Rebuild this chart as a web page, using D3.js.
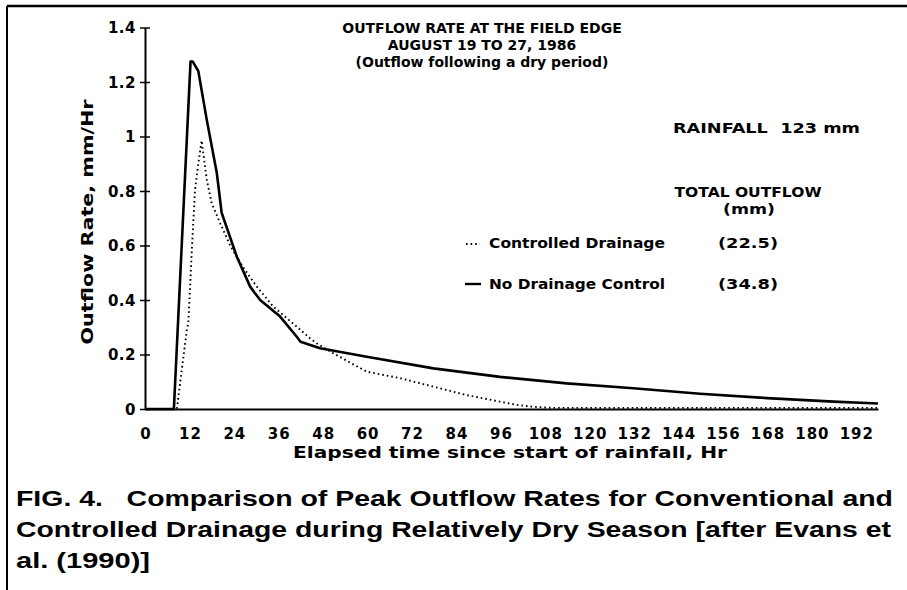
<!DOCTYPE html>
<html>
<head>
<meta charset="utf-8">
<script src="https://cdn.jsdelivr.net/npm/d3@7"></script>
<style>
  body { margin: 0; background: #fff; }
  .lbl { font-family: "DejaVu Sans", sans-serif; font-weight: bold; fill: #000; }
  .cap { font-family: "Liberation Sans", Arial, sans-serif; font-weight: bold; fill: #000; }
</style>
</head>
<body>
<div id="chart"></div>
<script>
// hours since start of rainfall
const noControlHr  = [0, 7.8, 12.3, 12.9, 14.4, 16.7, 19.4, 20.7, 24.8, 28.4, 31.1, 36.5, 41, 42, 47.3, 59.9, 77.9, 95.9, 113.9, 131.9, 149.9, 168, 186, 198];
const noControlVal = [0, 0, 1.275, 1.275, 1.24, 1.06, 0.866, 0.72, 0.559, 0.449, 0.40, 0.339, 0.265, 0.247, 0.223, 0.192, 0.149, 0.118, 0.094, 0.076, 0.056, 0.040, 0.027, 0.020];

const controlledHr  = [0, 8.6, 11.3, 11.7, 12.6, 13.5, 14.4, 15.3, 16.7, 18, 20.3, 23, 26.5, 30.2, 34.7, 40, 44.6, 46.4, 50.9, 59.9, 68.9, 77.9, 86.9, 95.9, 100.4, 105, 110, 198];
const controlledVal = [0, 0, 0.29, 0.315, 0.57, 0.803, 0.90, 0.985, 0.84, 0.756, 0.682, 0.60, 0.52, 0.449, 0.375, 0.314, 0.259, 0.241, 0.204, 0.137, 0.113, 0.082, 0.051, 0.027, 0.015, 0.008, 0.004, 0.004];

const xTicks = [0, 12, 24, 36, 48, 60, 72, 84, 96, 108, 120, 132, 144, 156, 168, 180, 192];
const yTicks = [0, 0.2, 0.4, 0.6, 0.8, 1, 1.2, 1.4];
const yTickLabels = ["0", "0.2", "0.4", "0.6", "0.8", "1", "1.2", "1.4"];

const titleLines = ["OUTFLOW RATE AT THE FIELD EDGE", "AUGUST 19 TO 27, 1986", "(Outflow following a dry period)"];
const captionLines = [
  "FIG. 4.   Comparison of Peak Outflow Rates for Conventional and",
  "Controlled Drainage during Relatively Dry Season [after Evans et",
  "al. (1990)]"
];

const W = 907, H = 590;
const svg = d3.select("#chart").append("svg")
  .attr("width", W).attr("height", H)
  .style("display", "block");

// helper: bold label stretched to the width seen in the scan
function label(xp, yp, str, len, anchor, size) {
  return svg.append("text").attr("class", "lbl")
    .attr("x", xp).attr("y", yp)
    .attr("text-anchor", anchor || "start")
    .style("font-size", (size || 14) + "px")
    .attr("textLength", len).attr("lengthAdjust", "spacingAndGlyphs")
    .text(str);
}

// frame (top and left edge of the scanned page)
svg.append("line").attr("x1", 7).attr("x2", W).attr("y1", 6).attr("y2", 6)
  .attr("stroke", "#000").attr("stroke-width", 2.5);
svg.append("line").attr("x1", 7).attr("x2", 7).attr("y1", 6).attr("y2", H)
  .attr("stroke", "#000").attr("stroke-width", 2);

const x = d3.scaleLinear().domain([0, 198]).range([145, 878]);
const y = d3.scaleLinear().domain([0, 1.4]).range([409, 27.5]);

// y axis
const yAxis = d3.axisLeft(y).tickValues(yTicks).tickSize(0).tickFormat((d, i) => yTickLabels[i]);
const gy = svg.append("g").attr("transform", "translate(145,0)").call(yAxis);
gy.select(".domain").attr("stroke", "#000").attr("stroke-width", 2);
gy.selectAll(".tick text").attr("class", "lbl").attr("x", -9).attr("dy", "0.36em")
  .style("font-size", "15px").style("letter-spacing", "0.5px").attr("font-family", null);
gy.selectAll(".tick").append("line").attr("x1", -5).attr("x2", 5)
  .attr("stroke", "#000").attr("stroke-width", 1.5);

// x axis
const xAxis = d3.axisBottom(x).tickValues(xTicks).tickSize(0).tickPadding(0);
const gx = svg.append("g").attr("transform", "translate(0,409)").call(xAxis);
gx.select(".domain").attr("stroke", "#000").attr("stroke-width", 2);
gx.selectAll(".tick text").attr("class", "lbl").attr("y", 30).attr("dy", 0)
  .attr("dx", "0.5px")
  .style("font-size", "15px").style("letter-spacing", "1px").attr("font-family", null);

// curves
const line = d3.line().x(d => x(d[0])).y(d => y(d[1]));

svg.append("path")
  .datum(d3.zip(controlledHr, controlledVal))
  .attr("d", line).attr("fill", "none")
  .attr("stroke", "#000").attr("stroke-width", 1.9)
  .attr("stroke-dasharray", "1.6,3");

svg.append("path")
  .datum(d3.zip(noControlHr, noControlVal))
  .attr("d", line).attr("fill", "none")
  .attr("stroke", "#000").attr("stroke-width", 2.6)
  .attr("stroke-linejoin", "round");

// titles
svg.selectAll(".title").data(titleLines).enter().append("text")
  .attr("class", "lbl").attr("x", 482).attr("y", (d, i) => 33 + i * 17)
  .attr("text-anchor", "middle").style("font-size", "14px").text(d => d);

// axis labels
svg.append("text").attr("class", "lbl")
  .attr("transform", "translate(93,222) rotate(-90)")
  .attr("text-anchor", "middle").style("font-size", "16px")
  .attr("textLength", 245).attr("lengthAdjust", "spacingAndGlyphs")
  .text("Outflow Rate, mm/Hr");
label(510, 458, "Elapsed time since start of rainfall, Hr", 434, "middle", 16);

// annotations and legend
label(673, 133, "RAINFALL  123 mm", 187).attr("xml:space", "preserve");
label(748, 197, "TOTAL OUTFLOW", 147, "middle");
label(749, 214, "(mm)", 52, "middle");

const legendNames = ["Controlled Drainage", "No Drainage Control"];
const legendTotals = ["(22.5)", "(34.8)"];
const legendY = [248, 289];

svg.append("line").attr("x1", 466).attr("x2", 480).attr("y1", legendY[0] - 4).attr("y2", legendY[0] - 4)
  .attr("stroke", "#000").attr("stroke-width", 1.8).attr("stroke-dasharray", "1.6,3");
svg.append("line").attr("x1", 465).attr("x2", 481).attr("y1", legendY[1] - 5).attr("y2", legendY[1] - 5)
  .attr("stroke", "#000").attr("stroke-width", 2.4);

legendNames.forEach((n, i) => {
  label(489, legendY[i], n, 176);
  label(718, legendY[i], legendTotals[i], 60);
});

// caption
const capLen = [877, 875, 134];
captionLines.forEach((t, i) => {
  svg.append("text").attr("class", "cap").attr("x", 16).attr("y", 506 + i * 31)
    .style("font-size", "22px").attr("xml:space", "preserve")
    .attr("textLength", capLen[i]).attr("lengthAdjust", "spacingAndGlyphs")
    .text(t);
});
</script>
</body>
</html>
